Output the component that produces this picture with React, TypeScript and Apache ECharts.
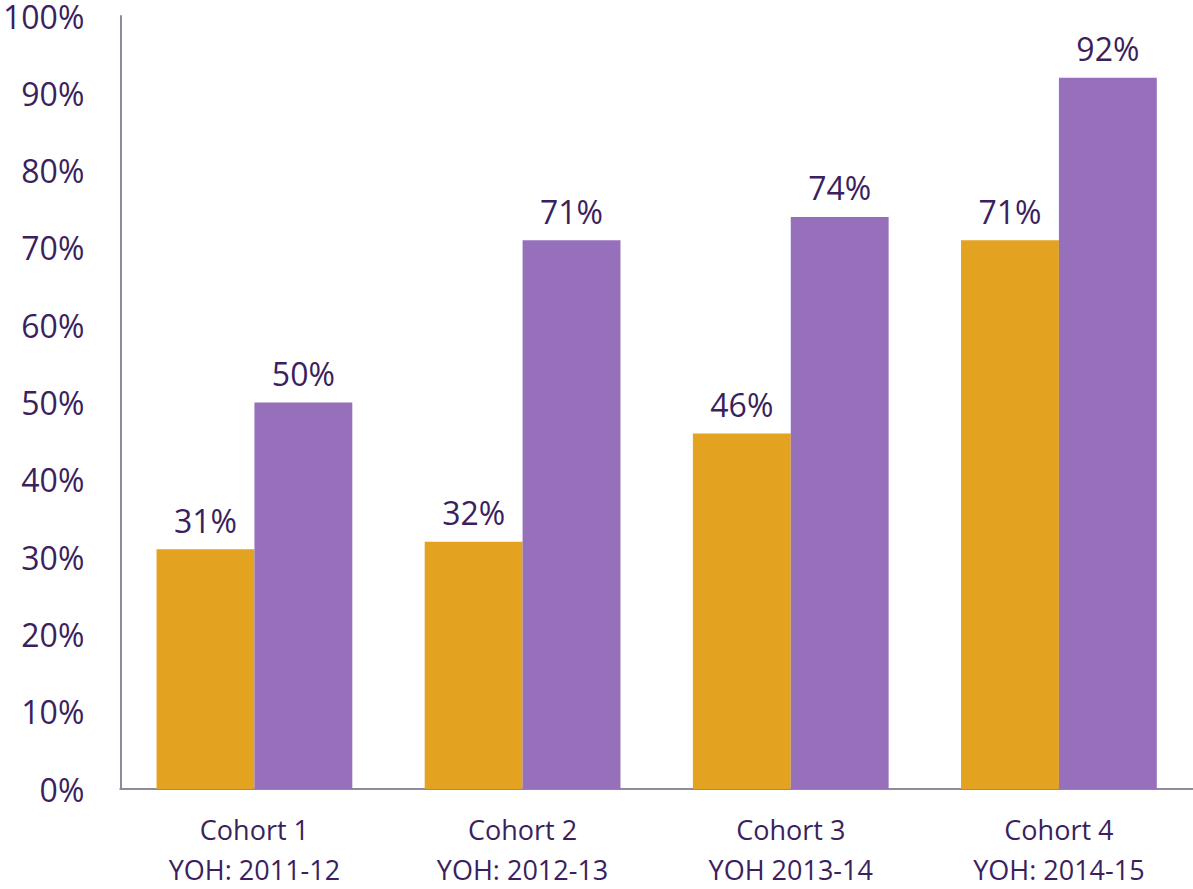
import React, { useEffect, useRef } from "react";
import * as echarts from "echarts";

const categories = ["Cohort 1\nYOH: 2011-12", "Cohort 2\nYOH: 2012-13", "Cohort 3\nYOH 2013-14", "Cohort 4\nYOH: 2014-15"];
const seriesA = [31, 32, 46, 71];
const seriesB = [50, 71, 74, 92];

const textColor = "#3B1F5E";
const font = "'Open Sans', 'Noto Sans', sans-serif";

export default function App() {
  const ref = useRef<HTMLDivElement>(null);
  useEffect(() => {
    if (!ref.current) return;
    const chart = echarts.init(ref.current, null, { renderer: "svg" });
    const label = {
      show: true,
      position: "top",
      distance: 13,
      formatter: "{c}%",
      color: textColor,
      fontSize: 32,
      fontFamily: font,
    };
    chart.setOption({
      animation: false,
      grid: { left: 119, right: 0, top: 16, bottom: 91, containLabel: false },
      xAxis: {
        type: "category",
        data: categories,
        axisLine: { show: true, lineStyle: { color: "#8E8A9B", width: 2 } },
        axisTick: { show: false },
        axisLabel: {
          color: textColor,
          fontSize: 27,
          fontFamily: font,
          lineHeight: 40,
          margin: 20,
          interval: 0,
        },
      },
      yAxis: {
        type: "value",
        min: 0,
        max: 100,
        interval: 10,
        axisLine: { show: true, lineStyle: { color: "#8E8A9B", width: 2 } },
        axisTick: { show: false },
        splitLine: { show: false },
        axisLabel: {
          formatter: "{value}%",
          color: textColor,
          fontSize: 32,
          lineHeight: 30,
          fontFamily: font,
          margin: 36,
        },
      },
      series: [
        {
          type: "bar",
          data: seriesA,
          itemStyle: { color: "#E3A320" },
          barGap: "0%",
          barCategoryGap: "27%",
          label,
        },
        {
          type: "bar",
          data: seriesB,
          itemStyle: { color: "#9670BB" },
          barGap: "0%",
          barCategoryGap: "27%",
          label,
        },
      ],
    });
    return () => chart.dispose();
  }, []);
  return <div ref={ref} style={{ position: "absolute", left: 0, top: 0, width: 1193, height: 889 }} />;
}
